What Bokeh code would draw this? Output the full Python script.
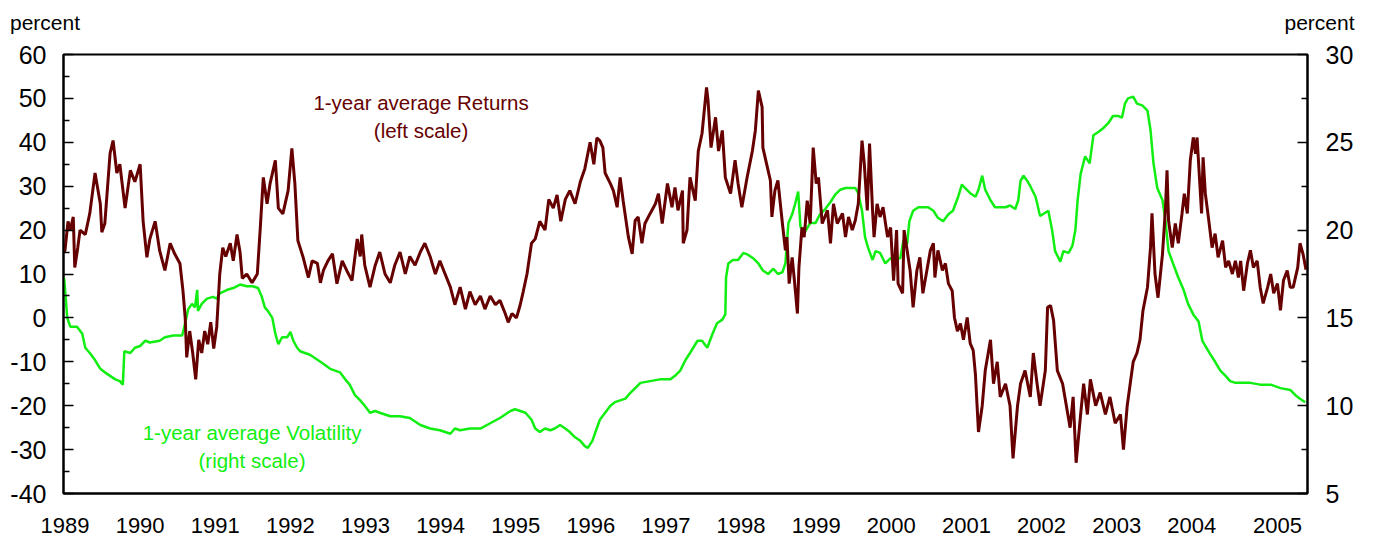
from bokeh.plotting import figure
from bokeh.models import Range1d, LinearAxis, FixedTicker, CustomJSTickFormatter, Label
from bokeh.embed import file_html
from bokeh.resources import INLINE

# ---- data (decimal years, percent) ----
ret_year = [1988.98, 1989.00, 1989.04, 1989.07, 1989.11, 1989.13, 1989.17, 1989.20, 1989.27, 1989.33,
            1989.40, 1989.47, 1989.49, 1989.53, 1989.60, 1989.64, 1989.69, 1989.73, 1989.80, 1989.87,
            1989.93, 1990.00, 1990.04, 1990.09, 1990.13, 1990.20, 1990.26, 1990.33, 1990.40, 1990.46,
            1990.53, 1990.57, 1990.60, 1990.62, 1990.66, 1990.70, 1990.74, 1990.78, 1990.82, 1990.86,
            1990.90, 1990.94, 1990.98, 1991.02, 1991.06, 1991.10, 1991.14, 1991.20, 1991.24, 1991.29,
            1991.33, 1991.36, 1991.42, 1991.49, 1991.56, 1991.60, 1991.64, 1991.69, 1991.73, 1991.80,
            1991.84, 1991.90, 1991.97, 1992.02, 1992.06, 1992.10, 1992.17, 1992.24, 1992.29, 1992.36,
            1992.40, 1992.44, 1992.50, 1992.56, 1992.62, 1992.69, 1992.75, 1992.82, 1992.89, 1992.93,
            1992.95, 1992.99, 1993.06, 1993.13, 1993.19, 1993.26, 1993.33, 1993.39, 1993.46, 1993.53,
            1993.59, 1993.66, 1993.73, 1993.79, 1993.86, 1993.93, 1993.99, 1994.06, 1994.13, 1994.19,
            1994.26, 1994.33, 1994.39, 1994.46, 1994.53, 1994.59, 1994.66, 1994.73, 1994.79, 1994.86,
            1994.90, 1994.95, 1995.01, 1995.06, 1995.10, 1995.15, 1995.21, 1995.26, 1995.32, 1995.39,
            1995.44, 1995.50, 1995.55, 1995.60, 1995.66, 1995.72, 1995.79, 1995.86, 1995.92, 1995.99,
            1996.04, 1996.08, 1996.12, 1996.16, 1996.19, 1996.26, 1996.30, 1996.35, 1996.39, 1996.43,
            1996.50, 1996.55, 1996.59, 1996.63, 1996.68, 1996.72, 1996.79, 1996.86, 1996.90, 1996.95,
            1997.02, 1997.08, 1997.12, 1997.16, 1997.22, 1997.23, 1997.28, 1997.32, 1997.39, 1997.43,
            1997.48, 1997.54, 1997.56, 1997.60, 1997.66, 1997.70, 1997.75, 1997.79, 1997.86, 1997.92,
            1997.96, 1998.01, 1998.08, 1998.15, 1998.19, 1998.23, 1998.28, 1998.29, 1998.35, 1998.39,
            1998.41, 1998.45, 1998.49, 1998.55, 1998.59, 1998.61, 1998.64, 1998.68, 1998.71, 1998.75,
            1998.77, 1998.81, 1998.84, 1998.88, 1998.92, 1998.96, 1999.00, 1999.03, 1999.08, 1999.15,
            1999.19, 1999.23, 1999.28, 1999.35, 1999.39, 1999.43, 1999.48, 1999.52, 1999.56, 1999.61,
            1999.64, 1999.68, 1999.71, 1999.75, 1999.77, 1999.81, 1999.85, 1999.89, 1999.95, 1999.99,
            2000.03, 2000.07, 2000.09, 2000.15, 2000.17, 2000.21, 2000.25, 2000.29, 2000.34, 2000.38,
            2000.42, 2000.48, 2000.52, 2000.56, 2000.58, 2000.62, 2000.68, 2000.72, 2000.76, 2000.81,
            2000.84, 2000.88, 2000.92, 2000.96, 2001.01, 2001.05, 2001.09, 2001.12, 2001.16, 2001.21,
            2001.25, 2001.32, 2001.36, 2001.41, 2001.45, 2001.52, 2001.58, 2001.62, 2001.68, 2001.72,
            2001.78, 2001.85, 2001.89, 2001.94, 2001.98, 2002.05, 2002.08, 2002.12, 2002.16, 2002.21,
            2002.28, 2002.33, 2002.38, 2002.42, 2002.46, 2002.52, 2002.56, 2002.61, 2002.65, 2002.72,
            2002.78, 2002.85, 2002.91, 2002.98, 2003.05, 2003.09, 2003.14, 2003.18, 2003.22, 2003.27,
            2003.31, 2003.35, 2003.41, 2003.45, 2003.47, 2003.51, 2003.55, 2003.61, 2003.65, 2003.67,
            2003.69, 2003.74, 2003.78, 2003.82, 2003.87, 2003.90, 2003.94, 2003.98, 2004.02, 2004.05,
            2004.07, 2004.13, 2004.15, 2004.18, 2004.22, 2004.27, 2004.31, 2004.35, 2004.41, 2004.45,
            2004.49, 2004.54, 2004.58, 2004.62, 2004.65, 2004.69, 2004.74, 2004.78, 2004.82, 2004.87,
            2004.91, 2004.95, 2005.01, 2005.05, 2005.09, 2005.14, 2005.18, 2005.22, 2005.27, 2005.31,
            2005.35, 2005.41, 2005.44, 2005.48, 2005.52]
ret_val = [15, 15.4, 22, 20, 23, 11.5, 16, 20, 19, 23.8,
           33, 26, 19.5, 21.5, 37.5, 40.4, 33, 35, 25, 33.6,
           31, 35, 22, 13.8, 18, 22, 15.3, 10.8, 17, 14.6,
           12.4, 6.2, 0, -9, -3, -8, -14, -5, -8, -3,
           -6, -1, -7, -2, 10, 16, 14, 17, 13, 19,
           15, 9, 10, 8, 10, 20.6, 32, 26, 30.6, 35.9,
           25, 23.7, 29, 38.6, 30.6, 17.6, 13.8, 9.2, 13, 12.4,
           8, 10.8, 13, 14.6, 7.8, 13, 10.8, 8.5, 18, 14,
           19, 12, 7, 12, 15, 10, 8, 12, 15, 10,
           14, 12, 15, 17, 14, 10, 13, 10, 7, 3,
           7, 2, 6, 3, 5, 2, 5, 3, 4, 1,
           -1, 1, 0, 3, 6, 10, 17, 18, 22, 20,
           27, 25, 28, 22, 27, 29, 26, 31, 34, 40,
           35, 41, 40.4, 38.8, 33, 30.6, 29, 25.2, 32, 26.7,
           18.4, 14.6, 22.2, 23, 17, 21.5, 23.8, 26, 28.3, 21.5,
           30.6, 25.2, 29.7, 24.5, 29, 17, 20, 32, 26.7, 38,
           42, 52.5, 49.5, 38.8, 45.7, 38, 42.7, 32, 28.3, 35.9,
           30.6, 25.2, 32, 38, 42.7, 51.8, 48, 38.8, 34.3, 31.3,
           23, 29, 31.3, 21.5, 15.4, 18.4, 7.8, 13.8, 8.5, 1,
           11.5, 20.6, 18.4, 26.7, 21.5, 38.8, 30.6, 32, 21.5, 24.5,
           17, 26, 21.5, 23.8, 18.4, 23, 20, 22.2, 26, 40.4,
           35.1, 24.5, 39.7, 24.5, 18.4, 26, 23, 25.2, 18.4, 20.6,
           8.5, 20, 7.8, 5.6, 20, 15.4, 10.8, 2.4, 10.8, 13.8,
           5.6, 11.5, 15.4, 17, 9.2, 15.4, 10.8, 12.4, 7.8, 6.2,
           0.1, -3, -1.3, -5, 0.1, -5.8, -7.4, -13, -26, -20,
           -12, -5, -15, -10, -18, -15, -20, -32, -20, -15,
           -12, -18, -8, -15, -20, -12, 2.4, 2.8, -0.6, -12,
           -15, -20, -25, -18, -33, -22, -15, -22, -14, -20,
           -17, -22, -18, -24, -22, -30, -20, -15, -10, -8,
           -5, 1.7, 7, 16, 23.8, 10, 4.6, 14.6, 25.2, 33.6,
           22.2, 16, 21.5, 17, 23.8, 28.3, 23.8, 35.9, 41.1, 37.4,
           41.1, 23.8, 36.6, 28.3, 23, 16, 19.2, 13.8, 17.6, 11.5,
           13, 10, 13, 9.2, 13, 6.2, 12.4, 15.4, 11.5, 13,
           7, 3.3, 7, 10, 5.6, 7.8, 1.7, 8.5, 10.8, 7,
           7, 11.5, 17, 14.6, 11]

vol_year = [1988.98, 1988.99, 1989.03, 1989.07, 1989.16, 1989.23, 1989.27, 1989.33, 1989.40, 1989.47,
            1989.53, 1989.60, 1989.67, 1989.73, 1989.77, 1989.79, 1989.87, 1989.93, 1990.00, 1990.07,
            1990.13, 1990.26, 1990.33, 1990.44, 1990.56, 1990.60, 1990.64, 1990.69, 1990.73, 1990.76,
            1990.77, 1990.82, 1990.89, 1990.97, 1991.02, 1991.06, 1991.16, 1991.24, 1991.33, 1991.42,
            1991.50, 1991.57, 1991.62, 1991.66, 1991.70, 1991.76, 1991.80, 1991.84, 1991.89, 1991.96,
            1992.00, 1992.04, 1992.09, 1992.13, 1992.26, 1992.40, 1992.53, 1992.66, 1992.73, 1992.79,
            1992.86, 1992.93, 1992.99, 1993.06, 1993.13, 1993.19, 1993.33, 1993.46, 1993.59, 1993.73,
            1993.86, 1993.99, 1994.13, 1994.19, 1994.26, 1994.39, 1994.53, 1994.66, 1994.79, 1994.93,
            1994.99, 1995.06, 1995.13, 1995.21, 1995.26, 1995.32, 1995.39, 1995.46, 1995.52, 1995.59,
            1995.66, 1995.72, 1995.79, 1995.86, 1995.92, 1995.96, 1996.02, 1996.07, 1996.12, 1996.19,
            1996.26, 1996.32, 1996.39, 1996.46, 1996.52, 1996.59, 1996.66, 1996.79, 1996.92, 1997.06,
            1997.12, 1997.19, 1997.26, 1997.32, 1997.42, 1997.48, 1997.55, 1997.62, 1997.68, 1997.75,
            1997.79, 1997.80, 1997.83, 1997.89, 1997.96, 1998.03, 1998.09, 1998.16, 1998.23, 1998.29,
            1998.36, 1998.43, 1998.49, 1998.55, 1998.59, 1998.63, 1998.68, 1998.72, 1998.76, 1998.79,
            1998.85, 1998.92, 1998.99, 1999.05, 1999.12, 1999.19, 1999.25, 1999.32, 1999.39, 1999.45,
            1999.52, 1999.56, 1999.61, 1999.65, 1999.69, 1999.75, 1999.79, 1999.85, 1999.92, 1999.99,
            2000.05, 2000.12, 2000.16, 2000.21, 2000.24, 2000.29, 2000.36, 2000.42, 2000.49, 2000.56,
            2000.62, 2000.69, 2000.76, 2000.82, 2000.89, 2000.94, 2000.98, 2001.05, 2001.12, 2001.16,
            2001.21, 2001.25, 2001.32, 2001.38, 2001.45, 2001.52, 2001.58, 2001.65, 2001.69, 2001.72,
            2001.76, 2001.81, 2001.85, 2001.92, 2001.98, 2002.09, 2002.14, 2002.18, 2002.25, 2002.29,
            2002.36, 2002.41, 2002.45, 2002.48, 2002.52, 2002.58, 2002.64, 2002.69, 2002.76, 2002.82,
            2002.89, 2002.95, 2003.02, 2003.07, 2003.11, 2003.15, 2003.22, 2003.27, 2003.34, 2003.41,
            2003.45, 2003.49, 2003.54, 2003.61, 2003.65, 2003.69, 2003.75, 2003.82, 2003.89, 2003.95,
            2004.02, 2004.09, 2004.14, 2004.18, 2004.25, 2004.31, 2004.38, 2004.45, 2004.51, 2004.58,
            2004.65, 2004.78, 2004.91, 2005.05, 2005.18, 2005.31, 2005.38, 2005.44, 2005.51]
vol_val = [17.3, 17.2, 15.0, 14.5, 14.5, 14.1, 13.3, 13.0, 12.6, 12.1,
           11.9, 11.7, 11.5, 11.4, 11.2, 13.1, 13.0, 13.3, 13.4, 13.7,
           13.6, 13.7, 13.9, 14.0, 14.0, 14.7, 15.5, 15.8, 15.6, 16.6,
           15.4, 15.8, 16.1, 16.2, 16.1, 16.4, 16.6, 16.7, 16.9, 16.8,
           16.8, 16.7, 16.2, 15.6, 15.4, 15.0, 14.1, 13.5, 13.9, 13.9,
           14.2, 13.7, 13.3, 13.1, 12.9, 12.5, 12.1, 11.9, 11.5, 11.2,
           10.6, 10.3, 10.0, 9.6, 9.7, 9.6, 9.4, 9.4, 9.3, 8.9,
           8.7, 8.6, 8.4, 8.7, 8.6, 8.7, 8.7, 9.0, 9.3, 9.7,
           9.8, 9.7, 9.6, 9.2, 8.7, 8.5, 8.7, 8.6, 8.7, 8.9,
           8.7, 8.5, 8.2, 8.0, 7.7, 7.6, 8.0, 8.6, 9.2, 9.6,
           10.0, 10.2, 10.3, 10.4, 10.7, 11.0, 11.3, 11.4, 11.5, 11.5,
           11.7, 12.0, 12.6, 13.0, 13.7, 13.7, 13.3, 14.1, 14.7, 14.9,
           15.2, 17.3, 18.1, 18.3, 18.3, 18.7, 18.6, 18.4, 18.1, 17.7,
           17.5, 17.8, 17.5, 17.6, 18.1, 20.4, 20.9, 21.5, 22.2, 20.2,
           19.9, 20.4, 20.4, 20.9, 21.2, 21.6, 22.0, 22.3, 22.4, 22.4,
           22.4, 22.1, 21.1, 19.6, 19.0, 18.3, 18.8, 18.7, 18.1, 18.4,
           18.4, 18.4, 19.4, 19.2, 20.5, 21.1, 21.3, 21.3, 21.3, 21.1,
           20.7, 20.5, 20.9, 21.1, 21.9, 22.6, 22.4, 22.1, 21.9, 22.3,
           23.1, 22.3, 21.7, 21.3, 21.3, 21.3, 21.4, 21.2, 21.7, 22.8,
           23.1, 22.8, 22.5, 21.9, 20.8, 21.1, 20.0, 18.8, 18.2, 18.8,
           18.7, 19.1, 20.0, 21.7, 23.2, 24.2, 23.8, 25.4, 25.6, 25.8,
           26.1, 26.5, 26.5, 26.4, 27.2, 27.5, 27.6, 27.2, 27.1, 26.8,
           25.7, 23.8, 22.4, 21.7, 20.5, 18.8, 18.1, 17.3, 16.6, 15.8,
           15.2, 14.8, 13.7, 13.4, 12.9, 12.5, 12.0, 11.7, 11.4, 11.3,
           11.3, 11.3, 11.2, 11.2, 11.0, 10.9, 10.6, 10.4, 10.2]

year_ticks = [1989, 1990, 1991, 1992, 1993, 1994, 1995, 1996, 1997, 1998,
              1999, 2000, 2001, 2002, 2003, 2004, 2005.14]
left_ticks = [-40, -30, -20, -10, 0, 10, 20, 30, 40, 50, 60]
left_minor = [-35, -25, -15, -5, 5, 15, 25, 35, 45, 55]
right_ticks = [5, 10, 15, 20, 25, 30]
right_minor = [7.5, 12.5, 17.5, 22.5, 27.5]

RET_COLOR = "#660000"
VOL_COLOR = "#11ee11"
FONT = "Liberation Sans"
X0, X1 = 1988.98, 2005.54

int_fmt = CustomJSTickFormatter(code="return tick.toFixed(0);")

p = figure(width=1374, height=542, output_backend="svg", toolbar_location=None,
           x_range=Range1d(X0, X1), y_range=Range1d(-40, 60),
           min_border_left=63, min_border_right=67, min_border_top=54, min_border_bottom=49,
           background_fill_color="white", border_fill_color="white")
p.extra_y_ranges = {"vol": Range1d(5, 30)}
p.outline_line_color = "black"
p.outline_line_width = 2
p.xgrid.visible = False
p.ygrid.visible = False

xa = p.xaxis[0]
xa.ticker = FixedTicker(ticks=year_ticks)
xa.formatter = CustomJSTickFormatter(code="return tick > 2004.5 ? '2005' : tick.toFixed(0);")
xa.major_tick_line_color = None
xa.minor_tick_line_color = None
xa.axis_line_width = 2
xa.major_label_standoff = 18
xa.major_label_text_font = FONT
xa.major_label_text_font_size = "22px"
xa.major_label_text_color = "black"

ya = p.yaxis[0]
ya.ticker = FixedTicker(ticks=left_ticks, minor_ticks=left_minor)
ya.formatter = int_fmt
ya.major_tick_in = 10
ya.major_tick_out = 0
ya.minor_tick_in = 6
ya.minor_tick_out = 0
ya.major_tick_line_width = 1.5
ya.minor_tick_line_width = 1.5
ya.minor_tick_line_color = "black"
ya.axis_line_width = 2
ya.major_label_standoff = 17
ya.major_label_text_font = FONT
ya.major_label_text_font_size = "25px"
ya.major_label_text_color = "black"

ra = LinearAxis(y_range_name="vol", ticker=FixedTicker(ticks=right_ticks, minor_ticks=right_minor),
                formatter=CustomJSTickFormatter(code="return tick.toFixed(0);"))
ra.major_tick_in = 10
ra.major_tick_out = 0
ra.minor_tick_in = 6
ra.minor_tick_out = 0
ra.major_tick_line_width = 1.5
ra.minor_tick_line_width = 1.5
ra.minor_tick_line_color = "black"
ra.axis_line_width = 2
ra.major_label_standoff = 18
ra.major_label_text_font = FONT
ra.major_label_text_font_size = "25px"
ra.major_label_text_color = "black"
p.add_layout(ra, "right")

p.line(vol_year, vol_val, y_range_name="vol", line_color=VOL_COLOR, line_width=2.5)
p.line(ret_year, ret_val, line_color=RET_COLOR, line_width=3)

# unit labels: placed in the top side panel so they are not clipped to the frame
p.add_layout(Label(x=X0, y=60, x_offset=-53.5, y_offset=32.5, text="percent",
                   text_font=FONT, text_font_size="21px", text_color="black",
                   text_align="left", text_baseline="alphabetic"), "above")
p.add_layout(Label(x=X1, y=60, x_offset=47, y_offset=32.5, text="percent",
                   text_font=FONT, text_font_size="21px", text_color="black",
                   text_align="right", text_baseline="alphabetic"), "above")

for txt, yv in [("1-year average Returns", 49.1), ("(left scale)", 42.7)]:
    p.add_layout(Label(x=1993.74, y=yv, text=txt, text_font=FONT, text_font_size="20.5px",
                       text_color=RET_COLOR, text_align="center", text_baseline="middle"))
for txt, yv in [("1-year average Volatility", -26.1), ("(right scale)", -32.5)]:
    p.add_layout(Label(x=1991.49, y=yv, text=txt, text_font=FONT, text_font_size="20.5px",
                       text_color=VOL_COLOR, text_align="center", text_baseline="middle"))

open("out.html", "w").write(file_html(p, INLINE))
